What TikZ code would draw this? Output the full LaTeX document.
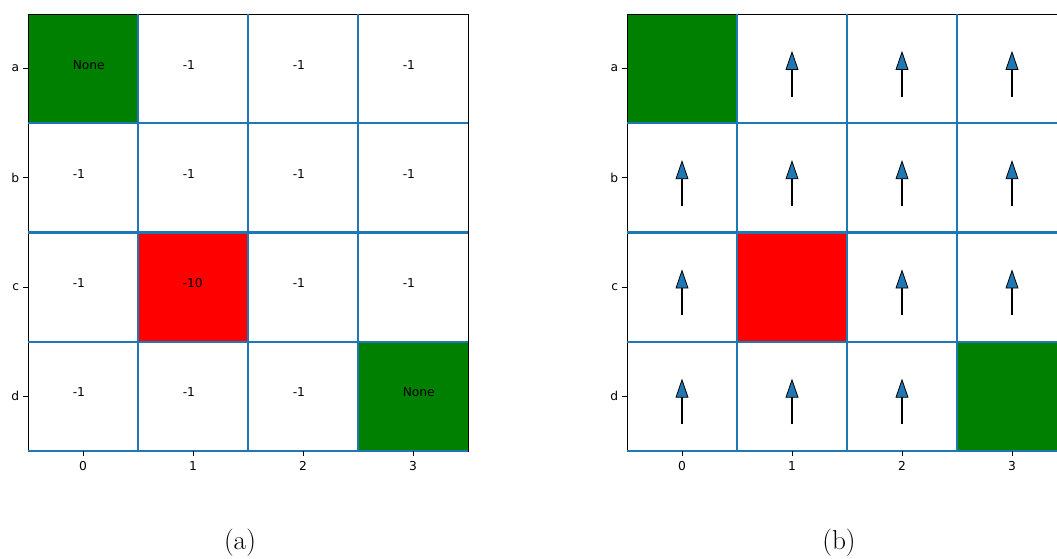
\documentclass[tikz,border=0pt]{standalone}
\usepackage{fontspec}
\newfontfamily\dvs{DejaVu Sans}
\definecolor{mblue}{HTML}{1F77B4}
\definecolor{mgreen}{RGB}{0,128,0}
\begin{document}
\begin{tikzpicture}[x=0.75pt,y=-0.75pt,
  celltxt/.style={anchor=base west, inner sep=0pt, font=\dvs\fontsize{9.2}{11}\selectfont},
  ticklab/.style={inner sep=0pt, font=\dvs\fontsize{9.2}{11}\selectfont},
  gridline/.style={draw=mblue, line width=1.6pt},
  frame/.style={draw=black, line width=0.7pt},
  tickmark/.style={draw=black, line width=0.6pt},
  shaft/.style={draw=black, line width=1.1pt},
  head/.style={fill=mblue, draw=black, line width=0.6pt, line join=miter},
  captxt/.style={font=\fontsize{20.5}{24}\selectfont, inner sep=0pt}]
\clip (0,0) rectangle (1057,559);
\fill[white] (0,0) rectangle (1057,559);
\foreach \ox/\p in {28/a, 627/b} {
  \fill[mgreen] (\ox,14) rectangle ++(110,109.25);
  \fill[red] (\ox+110,232.5) rectangle ++(110,109.25);
  \fill[mgreen] (\ox+330,341.75) rectangle ++(110,109.25);
  \draw[frame] (\ox,14) rectangle (\ox+440,451);
  \foreach \i in {1,2,3} {
    \draw[gridline] (\ox+110*\i,14) -- (\ox+110*\i,451);
    \draw[gridline] (\ox,14+109.25*\i) -- (\ox+440,14+109.25*\i);
  }
  \draw[gridline] (\ox,451) -- (\ox+440,451);
  \foreach \r/\l in {0/a,1/b,2/c,3/d} {
    \draw[tickmark] (\ox-5.5,68.625+109.25*\r) -- (\ox,68.625+109.25*\r);
    \node[ticklab, anchor=east] (\p row\l) at (\ox-8.5,68.625+109.25*\r) {\l};
  }
  \foreach \c in {0,1,2,3} {
    \draw[tickmark] (\ox+55+110*\c,451) -- (\ox+55+110*\c,456.5);
    \node[ticklab, anchor=north] (\p col\c) at (\ox+55+110*\c,461) {\c};
  }
}
% left panel values
\foreach \c/\r/\t in {0/0/None,1/0/-1,2/0/-1,3/0/-1,
                      0/1/-1,1/1/-1,2/1/-1,3/1/-1,
                      0/2/-1,1/2/-10,2/2/-1,3/2/-1,
                      0/3/-1,1/3/-1,2/3/-1,3/3/None} {
  \node[celltxt] (v\c\r) at (72.5+110*\c,69.1+109.25*\r) {\t};
}
% right panel arrows
\foreach \c/\r in {1/0,2/0,3/0,0/1,1/1,2/1,3/1,0/2,2/2,3/2,0/3,1/3,2/3} {
  \draw[shaft] (682+110*\c,96.6+109.25*\r) -- (682+110*\c,69.6+109.25*\r);
  \filldraw[head] (676+110*\c,69.6+109.25*\r) -- (682+110*\c,52.1+109.25*\r) -- (688+110*\c,69.6+109.25*\r) -- cycle;
}
\node[captxt] (capa) at (240,543) {(a)};
\node[captxt] (capb) at (839,543) {(b)};
\end{tikzpicture}
\end{document}
